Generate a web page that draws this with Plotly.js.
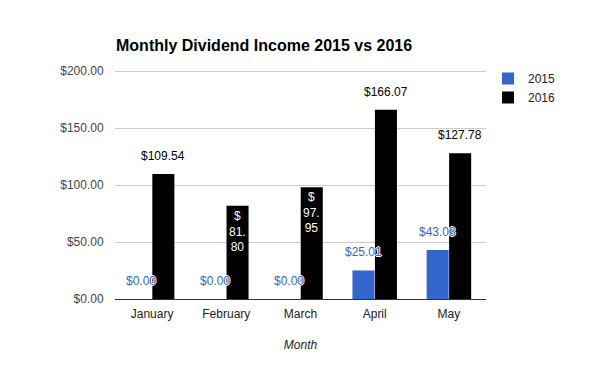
<!DOCTYPE html>
<html>
<head>
<meta charset="utf-8">
<script src="https://cdn.plot.ly/plotly-3.0.1.min.js"></script>
<style>html,body{margin:0;padding:0;background:#fff;}#chart{width:600px;height:371px;}</style>
</head>
<body>
<div id="chart"></div>
<script>
var months = ["January", "February", "March", "April", "May"];
var income2015 = [0, 0, 0, 25.01, 43.03];
var income2016 = [109.54, 81.80, 97.95, 166.07, 127.78];
var seriesNames = ["2015", "2016"];
var yTicks = [0, 50, 100, 150, 200];

var FONT = "Arial, 'Liberation Sans', sans-serif";
var HALO = "1px 0 0 #fff, -1px 0 0 #fff, 0 1px 0 #fff, 0 -1px 0 #fff";
function money(v) { return "$" + v.toFixed(2); }

var traces = [
  { type: "bar", name: seriesNames[0], x: months, y: income2015,
    marker: { color: "#3366cc" }, hoverinfo: "none" },
  { type: "bar", name: seriesNames[1], x: months, y: income2016,
    marker: { color: "#000000" }, hoverinfo: "none" }
];

var annotations = [];
months.forEach(function (m, i) {
  var v = income2016[i];
  if (v < 100) {
    // label does not fit above; Google wraps it inside the bar
    var s = money(v);
    var parts = s.slice(1).split(".");
    annotations.push({
      x: i + 0.152, y: v, xref: "x", yref: "y",
      text: "$<br>" + parts[0] + ".<br>" + parts[1], showarrow: false,
      yanchor: "top", yshift: -1,
      font: { family: FONT, size: 12, color: "#ffffff" }
    });
  } else {
    annotations.push({
      x: i + 0.152, y: v, xref: "x", yref: "y",
      text: money(v), showarrow: false,
      yanchor: "middle", yshift: 18,
      font: { family: FONT, size: 12, color: "#000000" }
    });
  }
});
months.forEach(function (m, i) {
  annotations.push({
    x: i - 0.152, y: income2015[i], xref: "x", yref: "y",
    text: money(income2015[i]), showarrow: false,
    yanchor: "middle", yshift: 18,
    font: { family: FONT, size: 12, color: "#3366cc", shadow: HALO }
  });
});

var layout = {
  width: 600, height: 371,
  margin: { l: 115, r: 114, t: 65, b: 72, pad: 0 },
  paper_bgcolor: "#fff", plot_bgcolor: "#fff",
  font: { family: FONT, size: 12, color: "#222" },
  title: { text: "<b>Monthly Dividend Income 2015 vs 2016</b>",
           x: 116 / 600, xanchor: "left", xref: "container",
           y: 1 - 45 / 371, yanchor: "middle", yref: "container",
           font: { family: FONT, size: 16, color: "#000" } },
  barmode: "group", bargap: 0.394, bargroupgap: 0.02,
  xaxis: {
    type: "category", showgrid: false, zeroline: false, showline: false,
    ticks: "outside", ticklen: 4, tickcolor: "rgba(0,0,0,0)",
    tickfont: { family: FONT, size: 12, color: "#222" },
    title: { text: "<i>Month</i>", standoff: 20,
             font: { family: FONT, size: 12, color: "#222" } }
  },
  yaxis: {
    range: [0, 205.26], tickvals: yTicks, tickformat: "$,.2f",
    showgrid: true, gridcolor: "#cccccc", gridwidth: 1,
    zeroline: true, zerolinecolor: "#333333", zerolinewidth: 1,
    showline: false,
    ticks: "outside", ticklen: 8, tickcolor: "rgba(0,0,0,0)",
    tickfont: { family: FONT, size: 12, color: "#444" }
  },
  showlegend: true,
  legend: { x: 488 / 600, xanchor: "left", xref: "container",
            y: 1 - 64 / 371, yanchor: "top", yref: "container",
            bgcolor: "rgba(255,255,255,0)",
            font: { family: FONT, size: 12, color: "#222" },
            tracegroupgap: 0, itemclick: false },
  annotations: annotations
};

Plotly.newPlot("chart", traces, layout, { displayModeBar: false, staticPlot: true });
</script>
</body>
</html>
